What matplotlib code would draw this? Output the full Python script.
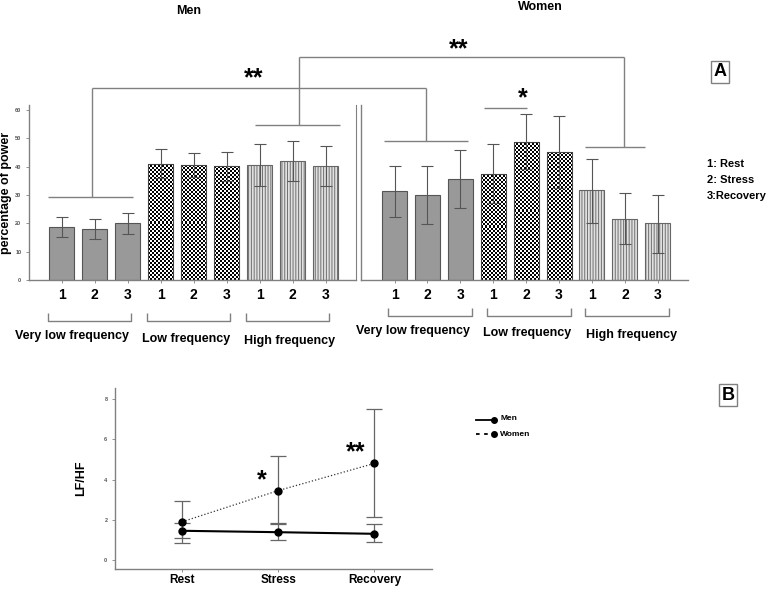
import matplotlib
matplotlib.use("Agg")
import matplotlib.pyplot as plt
import numpy as np

plt.rcParams['font.family'] = ['Liberation Sans', 'DejaVu Sans']
plt.rcParams['font.weight'] = 'bold'

# ---- panel A data (percentage of power) ----
bands = ['Very low frequency', 'Low frequency', 'High frequency']
conds = ['1', '2', '3']
men_mean = [18.7, 17.9, 20.0, 41.1, 40.5, 40.1, 40.7, 42.1, 40.2]
men_hi = [22.1, 21.4, 23.8, 46.1, 44.8, 45.3, 48.2, 49.2, 47.3]
men_lo = [15.3, 14.4, 16.4, 36.1, 36.2, 34.9, 33.2, 34.9, 33.1]
women_mean = [31.4, 30.0, 35.5, 37.6, 48.8, 45.2, 31.8, 21.6, 20.0]
women_hi = [40.4, 40.4, 45.8, 48.0, 58.5, 57.9, 42.9, 30.6, 30.0]
women_lo = [22.4, 19.6, 25.3, 27.1, 39.1, 32.4, 20.2, 12.6, 9.6]

# ---- panel B data (LF/HF) ----
phases = ['Rest', 'Stress', 'Recovery']
b_men = [1.45, 1.38, 1.30]
b_men_lo = [1.08, 0.97, 0.90]
b_men_hi = [1.85, 1.80, 1.77]
b_women = [1.90, 3.45, 4.80]
b_women_lo = [0.83, 1.83, 2.12]
b_women_hi = [2.95, 5.15, 7.50]

W, H = 778, 589
fig = plt.figure(figsize=(W / 100, H / 100), dpi=100)


def rect(x0, y0, x1, y1):
    # pixel box (top-left origin) -> figure fraction
    return [x0 / W, (H - y1) / H, (x1 - x0) / W, (y1 - y0) / H]


ov = fig.add_axes([0, 0, 1, 1], zorder=5)
ov.set_xlim(0, W)
ov.set_ylim(H, 0)
ov.axis('off')
ov.patch.set_alpha(0)

GRAY = '#808080'


def px(ax, x, y):
    return ov.transData.inverted().transform(ax.transData.transform((x, y)))


def style_axes(ax):
    for s in ['top', 'right']:
        ax.spines[s].set_visible(False)
    for s in ['left', 'bottom']:
        ax.spines[s].set_color(GRAY)
        ax.spines[s].set_linewidth(1)
    ax.tick_params(colors=GRAY, width=0.6, length=2, labelsize=4)


def checker(ax, patch):
    # fill a bar with a fine black/white checkerboard
    bb = patch.get_bbox()
    p0 = ax.transData.transform((bb.x0, bb.y0))
    p1 = ax.transData.transform((bb.x1, bb.y1))
    nx = max(1, int(round(abs(p1[0] - p0[0]) / 2)))
    ny = max(1, int(round(abs(p1[1] - p0[1]) / 2)))
    arr = (np.add.outer(np.arange(ny), np.arange(nx)) % 2).astype(float)
    im = ax.imshow(arr, cmap='gray', vmin=0, vmax=1, interpolation='nearest',
                   extent=[bb.x0, bb.x1, bb.y0, bb.y1], aspect='auto', zorder=1.5)
    im.set_clip_path(patch)


def draw_bars(ax, mean, lo, hi, xlim):
    x = np.arange(len(mean))
    ax.set_xlim(*xlim)
    ax.set_ylim(0, 61.8)
    for i in range(len(mean)):
        grp = i // 3
        if grp == 0:
            ax.bar(x[i], mean[i], 0.76, color='#999999', edgecolor='#555555', linewidth=0.8)
        elif grp == 1:
            bars = ax.bar(x[i], mean[i], 0.76, color='white', linewidth=0)
            checker(ax, bars[0])
            ax.bar(x[i], mean[i], 0.76, fill=False, edgecolor='#444444', linewidth=0.8, zorder=2)
        else:
            ax.bar(x[i], mean[i], 0.76, color='#e0e0e0', edgecolor='#707070', hatch='||||||', linewidth=0)
            ax.bar(x[i], mean[i], 0.76, fill=False, edgecolor='#666666', linewidth=0.8)
    m = np.array(mean)
    yerr = [m - np.array(lo), np.array(hi) - m]
    ax.errorbar(x, m, yerr=yerr, fmt='none', ecolor='#555555', elinewidth=0.8, capsize=4,
                capthick=0.8, zorder=3)
    ax.set_xticks(x)
    ax.set_xticklabels(conds * 3, fontsize=10, fontweight='bold', color='black')
    ax.tick_params(axis='x', length=2, pad=4, labelsize=10, labelcolor='black')
    ax.set_xlim(*xlim)
    ax.set_ylim(0, 61.8)


plt.rcParams['hatch.linewidth'] = 0.7

# Men
axm = fig.add_axes(rect(29, 105, 356, 280))
style_axes(axm)
axm.spines['right'].set_visible(True)
axm.spines['right'].set_color(GRAY)
draw_bars(axm, men_mean, men_lo, men_hi, (-0.985, 8.92))
axm.set_yticks(np.arange(0, 61, 10))
axm.tick_params(axis='y', labelsize=4, labelcolor='#555555', length=2)
axm.set_ylabel('percentage of power', fontsize=9, fontweight='bold', labelpad=2)

# Women
axw = fig.add_axes(rect(361, 105, 688, 280))
style_axes(axw)
draw_bars(axw, women_mean, women_lo, women_hi, (-1.02, 8.92))
axw.set_yticks([])

ov.text(189, 11, 'Men', fontsize=9, ha='center', va='center')
ov.text(540, 7, 'Women', fontsize=9, ha='center', va='center')

lk = dict(color=GRAY, lw=1, solid_capstyle='butt')


def hline(ax, x0, x1, y):
    p0, p1 = px(ax, x0, y), px(ax, x1, y)
    ov.plot([p0[0], p1[0]], [p0[1], p1[1]], **lk)


def vline(ax, x, y0, y1):
    p0, p1 = px(ax, x, y0), px(ax, x, y1)
    ov.plot([p0[0], p1[0]], [p0[1], p1[1]], **lk)


# significance brackets
hline(axm, -0.41, 2.17, 29.4)
vline(axm, 0.92, 29.4, 67.9)
hline(axm, 5.86, 8.44, 54.7)
vline(axm, 7.2, 54.7, 78.7)
hline(axw, -0.32, 2.23, 49.2)
vline(axw, 0.96, 49.2, 67.9)
hline(axw, 5.8, 7.6, 47.1)
vline(axw, 6.98, 47.1, 78.7)
a, b = px(axm, 0.92, 67.9), px(axw, 0.96, 67.9)
ov.plot([a[0], b[0]], [a[1], b[1]], **lk)
a, b = px(axm, 7.2, 78.7), px(axw, 6.98, 78.7)
ov.plot([a[0], b[0]], [a[1], b[1]], **lk)
hline(axw, 2.71, 4.02, 60.7)
p = px(axm, 5.83, 71.3)
ov.text(p[0], p[1], '**', fontsize=18, ha='center', va='center')
p = px(axw, 1.96, 81.5)
ov.text(p[0], p[1], '**', fontsize=18, ha='center', va='center')
p = px(axw, 3.9, 64.0)
ov.text(p[0], p[1], '*', fontsize=18, ha='center', va='center')


# band brackets below the axes
def band_bracket(ax, x0, x1, ybot):
    a = px(ax, x0, 0)[0]
    b = px(ax, x1, 0)[0]
    ov.plot([a, a, b, b], [ybot - 8, ybot, ybot, ybot - 8], **lk)


men_lab_x = [72, 186, 290]
men_lab_y = [336, 339, 341]
women_lab_x = [413, 527, 632]
women_lab_y = [331, 333, 335]
for g in range(3):
    band_bracket(axm, 3 * g - 0.42, 3 * g + 2.1, 321)
    band_bracket(axw, 3 * g - 0.2, 3 * g + 2.35, 316)
    ov.text(men_lab_x[g], men_lab_y[g], bands[g], fontsize=9, ha='center', va='center')
    ov.text(women_lab_x[g], women_lab_y[g], bands[g], fontsize=9, ha='center', va='center')

# panel labels and key
ov.text(720, 72, 'A', fontsize=13, ha='center', va='center',
        bbox=dict(boxstyle='square,pad=0.15', fc='white', ec=GRAY, lw=1))
ov.text(728, 395, 'B', fontsize=13, ha='center', va='center',
        bbox=dict(boxstyle='square,pad=0.15', fc='white', ec=GRAY, lw=1))
ov.text(707, 164, '1: Rest', fontsize=8, ha='left', va='center')
ov.text(707, 180, '2: Stress', fontsize=8, ha='left', va='center')
ov.text(707, 196, '3:Recovery', fontsize=8, ha='left', va='center')

# ---- panel B ----
axb = fig.add_axes(rect(115, 388, 432, 569))
style_axes(axb)
xb = np.arange(3)
mm = np.array(b_men)
wm = np.array(b_women)
axb.errorbar(xb, wm, yerr=[wm - np.array(b_women_lo), np.array(b_women_hi) - wm], fmt='none',
             ecolor='#666666', elinewidth=0.9, capsize=6, capthick=0.9)
axb.errorbar(xb, mm, yerr=[mm - np.array(b_men_lo), np.array(b_men_hi) - mm], fmt='none',
             ecolor='#666666', elinewidth=0.9, capsize=6, capthick=0.9)
axb.plot(xb, wm, ':', color='#333333', lw=0.9, marker='o', ms=5, mfc='black', mec='black', label='Women')
axb.plot(xb, mm, '-', color='black', lw=1.5, marker='o', ms=5, mfc='black', mec='black', label='Men')
axb.set_xlim(-0.70, 2.60)
axb.set_ylim(-0.45, 8.55)
axb.set_yticks(np.arange(0, 9, 2))
axb.set_xticks(xb)
axb.set_xticklabels(phases, fontsize=8.5, fontweight='bold', color='black')
axb.tick_params(axis='x', length=2, pad=1.5, labelsize=8.5, labelcolor='black')
axb.tick_params(axis='y', labelsize=4, labelcolor='#555555')
axb.set_ylabel('LF/HF', fontsize=9, fontweight='bold', labelpad=12)
p = px(axb, 0.83, 3.95)
ov.text(p[0], p[1], '*', fontsize=18, ha='center', va='center')
p = px(axb, 1.80, 5.35)
ov.text(p[0], p[1], '**', fontsize=18, ha='center', va='center')

# legend for panel B
ov.plot([476, 494], [420, 420], color='black', lw=1.3)
ov.plot([494], [420], 'o', color='black', ms=4)
ov.text(501, 419, 'Men', fontsize=6, ha='left', va='center')
ov.plot([476, 494], [434, 434], color='black', lw=1.3, ls=(0, (2, 2.5)))
ov.plot([494], [434], 'o', color='black', ms=4)
ov.text(500, 434, 'Women', fontsize=6, ha='left', va='center')

fig.savefig('out.png', dpi=100)
